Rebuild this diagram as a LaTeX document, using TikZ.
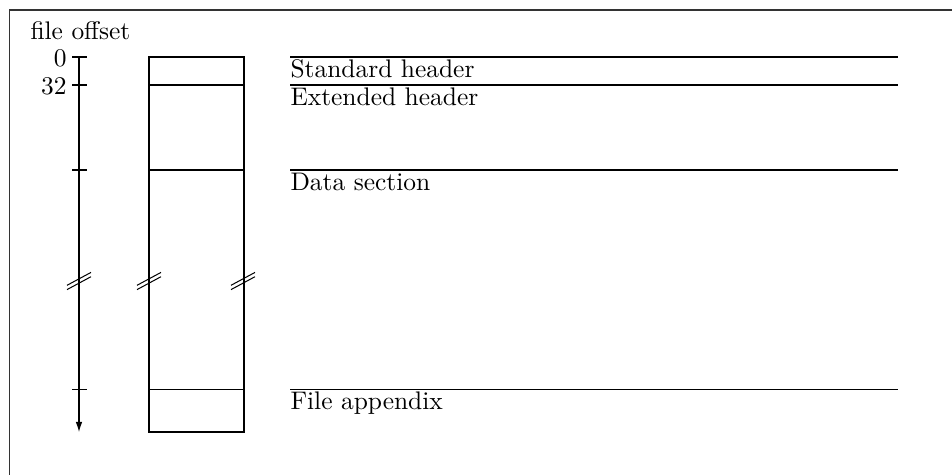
\documentclass[tikz,border=0pt]{standalone}
\usetikzlibrary{arrows.meta}
\begin{document}
\begin{tikzpicture}[x=0.393pt,y=-0.393pt,
  frame/.style={draw=black!80, line width=0.4pt},
  thin/.style={line width=0.4pt},
  boxedge/.style={line width=0.8pt},
  tickmark/.style={line width=0.4pt},
  breakmark/.style={line width=0.4pt},
  seclabel/.style={anchor=base west, inner sep=0pt},
  offlabel/.style={anchor=base east, inner sep=0pt}
]
\useasboundingbox (0,0) rectangle (952,474);
% outer frame (runs past the page edges on the right and bottom)
\draw[frame] (9.5,10) rectangle (1000,520);

% offset axis
\node[seclabel] (title) at (30,39) {file offset};
\coordinate (ax0) at (79,57);
\coordinate (axend) at (79,432);
\draw[thin, -{Latex[length=4pt,width=2.6pt]}] (ax0) -- (axend);
\foreach \y in {57,85,170,389}
  \draw[tickmark] (72,\y) -- (87,\y);
\node[offlabel] (l0) at (67,66) {0};
\node[offlabel] (l32) at (67,94) {32};

% file layout box
\coordinate (bx0) at (149,57);
\coordinate (bx1) at (244,432);
\draw[thin] (149,85) -- (244,85);
\draw[thin] (149,170) -- (244,170);
\draw[thin] (149,389) -- (244,389);
\draw[boxedge] (bx0) rectangle (bx1);

% section guides and names
\foreach \y/\t in {57/Standard header,85/Extended header,170/Data section,389/File appendix}{
  \draw[thin] (290,\y) -- (898,\y);
  \node[seclabel] at (290,\y+20) {\t};
}

% break marks on the axis and on both box edges
\foreach \x in {79,149,243}{
  \begin{scope}[shift={(\x,281)}]
    \draw[breakmark] (-12,4.3) -- (12,-8.6);
    \draw[breakmark] (-12,8.6) -- (12,-4.3);
  \end{scope}
}
\end{tikzpicture}
\end{document}
